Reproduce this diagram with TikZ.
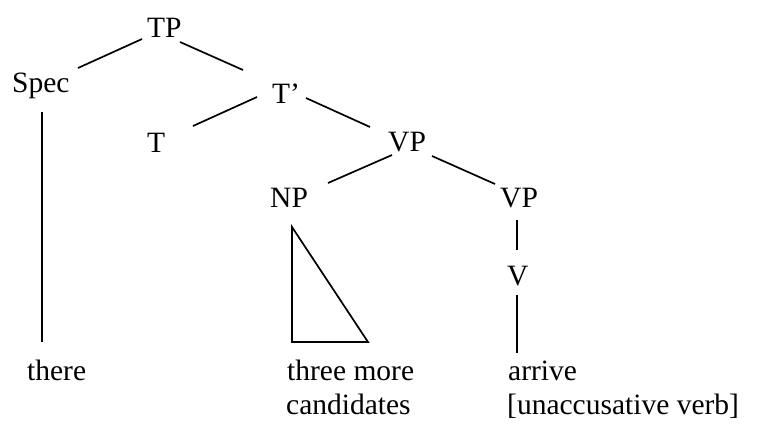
\documentclass[tikz,border=0pt]{standalone}
\usepackage{fontspec}
\setmainfont{Liberation Serif}
\begin{document}
\begin{tikzpicture}[x=1pt,y=-1pt,
  lbl/.style={anchor=base west,inner sep=0pt,font=\fontsize{29.5}{34}\selectfont},
  branch/.style={line width=1.7pt,black}]
\useasboundingbox (0,0) rectangle (758,424);
% labels
\node[lbl] (tp)    at (147,37)  {TP};
\node[lbl] (spec)  at (12,92)   {Spec};
\node[lbl] (tbar)  at (272,103) {T’};
\node[lbl] (t)     at (147,152) {T};
\node[lbl] (vpa)   at (388,151) {VP};
\node[lbl] (np)    at (270,207) {NP};
\node[lbl] (vpb)   at (500,207) {VP};
\node[lbl] (v)     at (507,285) {V};
\node[lbl] (there) at (27,380)  {there};
\node[lbl] (three) at (287,380) {three more};
\node[lbl] (cand)  at (286,414) {candidates};
\node[lbl] (arrive) at (508,380) {arrive};
\node[lbl] (unacc) at (507,414) {[unaccusative verb]};
% branches
\draw[branch] ([shift={(-5,2)}]tp.base west) -- ([shift={(66,-24)}]spec.base west);
\draw[branch] ([shift={(33,5)}]tp.base west) -- ([shift={(-29,-33)}]tbar.base west);
\draw[branch] ([shift={(-15,-6)}]tbar.base west) -- ([shift={(46,-26)}]t.base west);
\draw[branch] ([shift={(34,-5)}]tbar.base west) -- ([shift={(-18,-24)}]vpa.base west);
\draw[branch] ([shift={(4,4)}]vpa.base west) -- ([shift={(58,-24)}]np.base west);
\draw[branch] ([shift={(44,5)}]vpa.base west) -- ([shift={(-5,-23)}]vpb.base west);
\draw[branch] ([shift={(17,13)}]vpb.base west) -- ([shift={(10,-35)}]v.base west);
\draw[branch] ([shift={(10,10)}]v.base west) -- ([shift={(9,-27)}]arrive.base west);
\draw[branch] ([shift={(30,20)}]spec.base west) -- ([shift={(15,-38)}]there.base west);
% triangle under NP
\draw[branch,line join=miter] ([shift={(22,20)}]np.base west) -- ([shift={(22,135)}]np.base west) -- ([shift={(98,135)}]np.base west) -- cycle;
\end{tikzpicture}
\end{document}
